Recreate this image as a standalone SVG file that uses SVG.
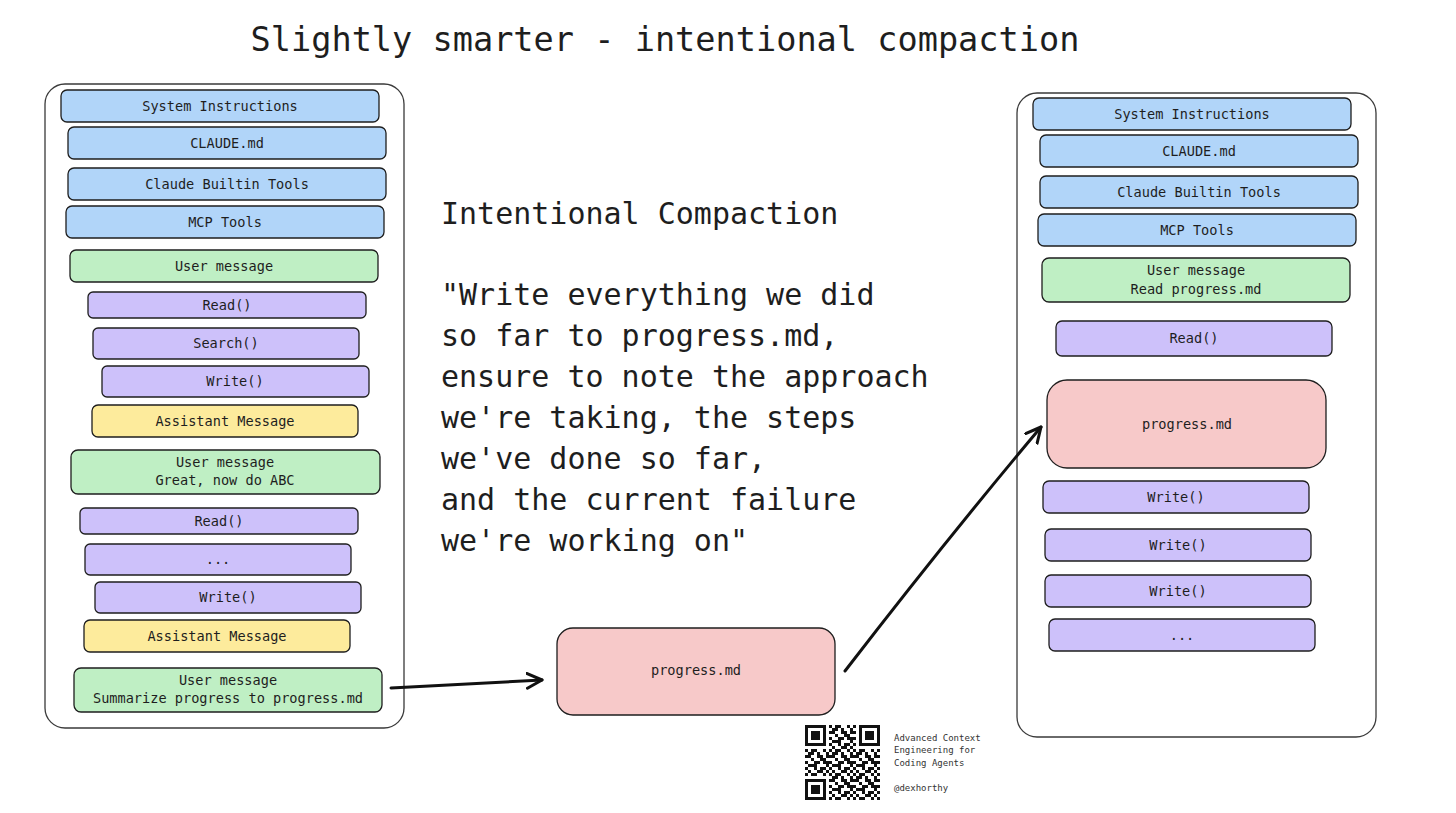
<svg xmlns="http://www.w3.org/2000/svg" width="1456" height="813" viewBox="0 0 1456 813">
<style>
text{font-family:"DejaVu Sans Mono","Liberation Mono",monospace;fill:#1e1e1e}
.lbl{font-size:13.6px;text-anchor:middle}
.box{stroke:#1e1e1e;stroke-width:1.3}
.blue{fill:#b1d5f9}
.green{fill:#bfefc4}
.purple{fill:#cdc1fa}
.yellow{fill:#fdeb9c}
.pink{fill:#f7c9c9}
.cont{fill:#ffffff;stroke:#3a3a3a;stroke-width:1.3}
.big{font-size:30px}
.conn{fill:none;stroke:#111;stroke-width:3;stroke-linecap:round}
.side{font-size:9px;fill:#333}
</style>
<defs>
<marker id="ah" markerUnits="userSpaceOnUse" markerWidth="22" markerHeight="22" refX="16" refY="9" orient="auto">
<path d="M1,1.5 L16,9 L1,16.5" fill="none" stroke="#111" stroke-width="3" stroke-linecap="round" stroke-linejoin="round"/>
</marker>
<pattern id="qr" patternUnits="userSpaceOnUse" x="805" y="725" width="24" height="24">
<path fill="#111" d="M0 0h3v3h-3z M6 0h6v3h-6z M18 0h3v3h-3z M3 3h6v3h-6z M12 3h3v3h-3z M21 3h3v3h-3z M0 6h6v3h-6z M12 6h6v3h-6z M21 6h3v3h-3z M6 9h3v3h-3z M15 9h6v3h-6z M0 12h3v3h-3z M9 12h6v3h-6z M18 12h6v3h-6z M3 15h9v3h-9z M21 15h3v3h-3z M0 18h3v3h-3z M9 18h3v3h-3z M15 18h6v3h-6z M3 21h3v3h-3z M12 21h6v3h-6z M21 21h3v3h-3z"/>
</pattern>
<g id="finder">
<rect x="0" y="0" width="24" height="24" fill="#fff"/>
<rect x="0" y="0" width="21" height="21" fill="#111"/>
<rect x="3" y="3" width="15" height="15" fill="#fff"/>
<rect x="6" y="6" width="9" height="9" fill="#111"/>
</g>
</defs>

<text x="665" y="51" font-size="33.6" text-anchor="middle">Slightly smarter - intentional compaction</text>

<g id="left-context">
<rect class="cont" x="45" y="84" width="359" height="644" rx="20"/>
</g>
<g id="l-sys"><rect class="box blue" x="61" y="90" width="318" height="32" rx="6"/><text class="lbl" x="220" y="111">System Instructions</text></g>
<g id="l-claude"><rect class="box blue" x="68" y="127" width="318" height="32" rx="6"/><text class="lbl" x="227" y="148">CLAUDE.md</text></g>
<g id="l-builtin"><rect class="box blue" x="68" y="168" width="318" height="32" rx="6"/><text class="lbl" x="227" y="189">Claude Builtin Tools</text></g>
<g id="l-mcp"><rect class="box blue" x="66" y="206" width="318" height="32" rx="6"/><text class="lbl" x="225" y="227">MCP Tools</text></g>
<g id="l-user1"><rect class="box green" x="70" y="250" width="308" height="32" rx="6"/><text class="lbl" x="224" y="271">User message</text></g>
<g id="l-read1"><rect class="box purple" x="88" y="292" width="278" height="26" rx="5"/><text class="lbl" x="227" y="310">Read()</text></g>
<g id="l-search"><rect class="box purple" x="93" y="328" width="266" height="31" rx="5"/><text class="lbl" x="226" y="348">Search()</text></g>
<g id="l-write1"><rect class="box purple" x="102" y="366" width="267" height="31" rx="5"/><text class="lbl" x="235" y="386">Write()</text></g>
<g id="l-asst1"><rect class="box yellow" x="92" y="405" width="266" height="32" rx="6"/><text class="lbl" x="225" y="426">Assistant Message</text></g>
<g id="l-user2"><rect class="box green" x="71" y="450" width="309" height="44" rx="7"/><text class="lbl" x="225" y="467">User message</text><text class="lbl" x="225" y="485">Great, now do ABC</text></g>
<g id="l-read2"><rect class="box purple" x="80" y="508" width="278" height="26" rx="5"/><text class="lbl" x="219" y="526">Read()</text></g>
<g id="l-dots"><rect class="box purple" x="85" y="544" width="266" height="31" rx="5"/><text class="lbl" x="218" y="564">...</text></g>
<g id="l-write2"><rect class="box purple" x="95" y="582" width="266" height="31" rx="5"/><text class="lbl" x="228" y="602">Write()</text></g>
<g id="l-asst2"><rect class="box yellow" x="84" y="620" width="266" height="32" rx="6"/><text class="lbl" x="217" y="641">Assistant Message</text></g>
<g id="l-user3"><rect class="box green" x="74" y="668" width="308" height="44" rx="7"/><text class="lbl" x="228" y="685">User message</text><text class="lbl" x="228" y="703">Summarize progress to progress.md</text></g>

<g id="instruction-text">
<text class="big" x="441" y="224">Intentional Compaction</text>
<text class="big" x="441" y="305">"Write everything we did</text>
<text class="big" x="441" y="346">so far to progress.md,</text>
<text class="big" x="441" y="387">ensure to note the approach</text>
<text class="big" x="441" y="428">we're taking, the steps</text>
<text class="big" x="441" y="469">we've done so far,</text>
<text class="big" x="441" y="510">and the current failure</text>
<text class="big" x="441" y="551">we're working on"</text>
</g>

<g id="mid-progress"><rect class="box pink" x="557" y="628" width="278" height="87" rx="16"/><text class="lbl" x="696" y="675">progress.md</text></g>

<g id="right-context">
<rect class="cont" x="1017" y="93" width="359" height="644" rx="20"/>
</g>
<g id="r-sys"><rect class="box blue" x="1033" y="98" width="318" height="32" rx="6"/><text class="lbl" x="1192" y="119">System Instructions</text></g>
<g id="r-claude"><rect class="box blue" x="1040" y="135" width="318" height="32" rx="6"/><text class="lbl" x="1199" y="156">CLAUDE.md</text></g>
<g id="r-builtin"><rect class="box blue" x="1040" y="176" width="318" height="32" rx="6"/><text class="lbl" x="1199" y="197">Claude Builtin Tools</text></g>
<g id="r-mcp"><rect class="box blue" x="1038" y="214" width="318" height="32" rx="6"/><text class="lbl" x="1197" y="235">MCP Tools</text></g>
<g id="r-user"><rect class="box green" x="1042" y="258" width="308" height="44" rx="7"/><text class="lbl" x="1196" y="275">User message</text><text class="lbl" x="1196" y="294">Read progress.md</text></g>
<g id="r-read"><rect class="box purple" x="1056" y="321" width="276" height="35" rx="6"/><text class="lbl" x="1194" y="343">Read()</text></g>
<g id="r-progress"><rect class="box pink" x="1047" y="380" width="279" height="88" rx="20"/><text class="lbl" x="1187" y="429">progress.md</text></g>
<g id="r-write1"><rect class="box purple" x="1043" y="481" width="266" height="32" rx="6"/><text class="lbl" x="1176" y="502">Write()</text></g>
<g id="r-write2"><rect class="box purple" x="1045" y="529" width="266" height="32" rx="6"/><text class="lbl" x="1178" y="550">Write()</text></g>
<g id="r-write3"><rect class="box purple" x="1045" y="575" width="266" height="32" rx="6"/><text class="lbl" x="1178" y="596">Write()</text></g>
<g id="r-dots"><rect class="box purple" x="1049" y="619" width="266" height="32" rx="6"/><text class="lbl" x="1182" y="640">...</text></g>

<g id="connectors">
<path class="conn" d="M391,688 L542,680" marker-end="url(#ah)"/>
<path class="conn" d="M845,671 Q946,540 1041,427" marker-end="url(#ah)"/>
</g>

<g id="qr-code">
<rect x="805" y="725" width="75" height="75" fill="url(#qr)"/>
<use href="#finder" x="805" y="725"/>
<g transform="translate(880,725) scale(-1,1)"><use href="#finder"/></g>
<g transform="translate(805,800) scale(1,-1)"><use href="#finder"/></g>
</g>
<g id="credits">
<text class="side" x="894" y="741">Advanced Context</text>
<text class="side" x="894" y="753">Engineering for</text>
<text class="side" x="894" y="766">Coding Agents</text>
<text class="side" x="894" y="791">@dexhorthy</text>
</g>
</svg>
